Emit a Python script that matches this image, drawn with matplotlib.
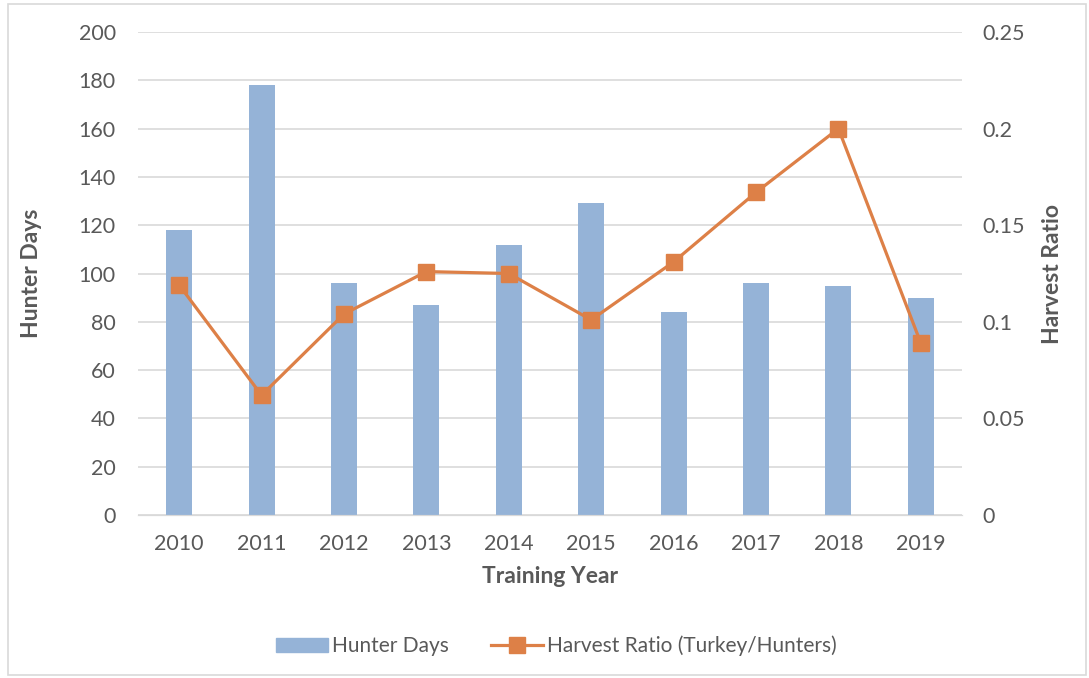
import matplotlib
matplotlib.use("Agg")
import matplotlib.pyplot as plt
from matplotlib.patches import Rectangle
from matplotlib.lines import Line2D

# Data
years = ["2010", "2011", "2012", "2013", "2014", "2015", "2016", "2017", "2018", "2019"]
hunter_days = [118, 178, 96, 87, 112, 129, 84, 96, 95, 90]
harvest_ratio = [0.119, 0.062, 0.104, 0.126, 0.125, 0.101, 0.131, 0.167, 0.200, 0.089]

bar_color = "#95B3D7"
line_color = "#DD8047"
text_color = "#595959"
grid_color = "#D9D9D9"

plt.rcParams["font.family"] = ["Lato", "DejaVu Sans"]

fig = plt.figure(figsize=(10.89, 6.78), dpi=100)
ax = fig.add_axes([0.1267, 0.2404, 0.8834 - 0.1267, 0.9528 - 0.2404])
ax2 = ax.twinx()

x = list(range(len(years)))
ax.bar(x, hunter_days, width=0.316, color=bar_color, zorder=2)
ax2.plot(x, harvest_ratio, color=line_color, lw=2.3, marker="s", markersize=12,
         markerfacecolor=line_color, markeredgecolor=line_color, zorder=3)

ax.set_xlim(-0.5, len(years) - 0.5)
ax.set_ylim(0, 200)
ax.set_yticks(range(0, 201, 20))
ax2.set_ylim(0, 0.25)
ax2.set_yticks([0, 0.05, 0.1, 0.15, 0.2, 0.25])
ax2.set_yticklabels(["0", "0.05", "0.1", "0.15", "0.2", "0.25"])

ax.set_xticks(x)
ax.set_xticklabels(years)
ax.yaxis.grid(True, color=grid_color, lw=1.2, zorder=0)
ax.set_axisbelow(True)

for a in (ax, ax2):
    for s in ("top", "left", "right"):
        a.spines[s].set_visible(False)
    a.spines["bottom"].set_color(grid_color)
    a.tick_params(length=0, labelsize=15.5, colors=text_color)
ax.tick_params(axis="y", pad=16)
ax.tick_params(axis="x", pad=14)
ax2.tick_params(axis="y", pad=15)

ax.set_ylabel("Hunter Days", fontsize=16.5, fontweight="bold", color=text_color, labelpad=26)
ax2.set_ylabel("Harvest Ratio", fontsize=16.5, fontweight="bold", color=text_color, labelpad=12)
ax.set_xlabel("Training Year", fontsize=16.5, fontweight="bold", color=text_color, labelpad=8)

handles = [
    Rectangle((0, 0), 1, 1, color=bar_color),
    Line2D([0], [0], color=line_color, lw=2.3, marker="s", markersize=12),
]
fig.legend(handles, ["Hunter Days", "Harvest Ratio (Turkey/Hunters)"],
           loc="center", bbox_to_anchor=(0.511, 0.047), ncol=2, frameon=False,
           fontsize=15, labelcolor=text_color, handlelength=2.5, columnspacing=2.0,
           handletextpad=0.2)

# light outer border like the source
fig.patches.append(Rectangle((0.007, 0.004), 0.99, 0.99, transform=fig.transFigure,
                             fill=False, edgecolor=grid_color, lw=1.2))

fig.savefig("out.png", dpi=100)
